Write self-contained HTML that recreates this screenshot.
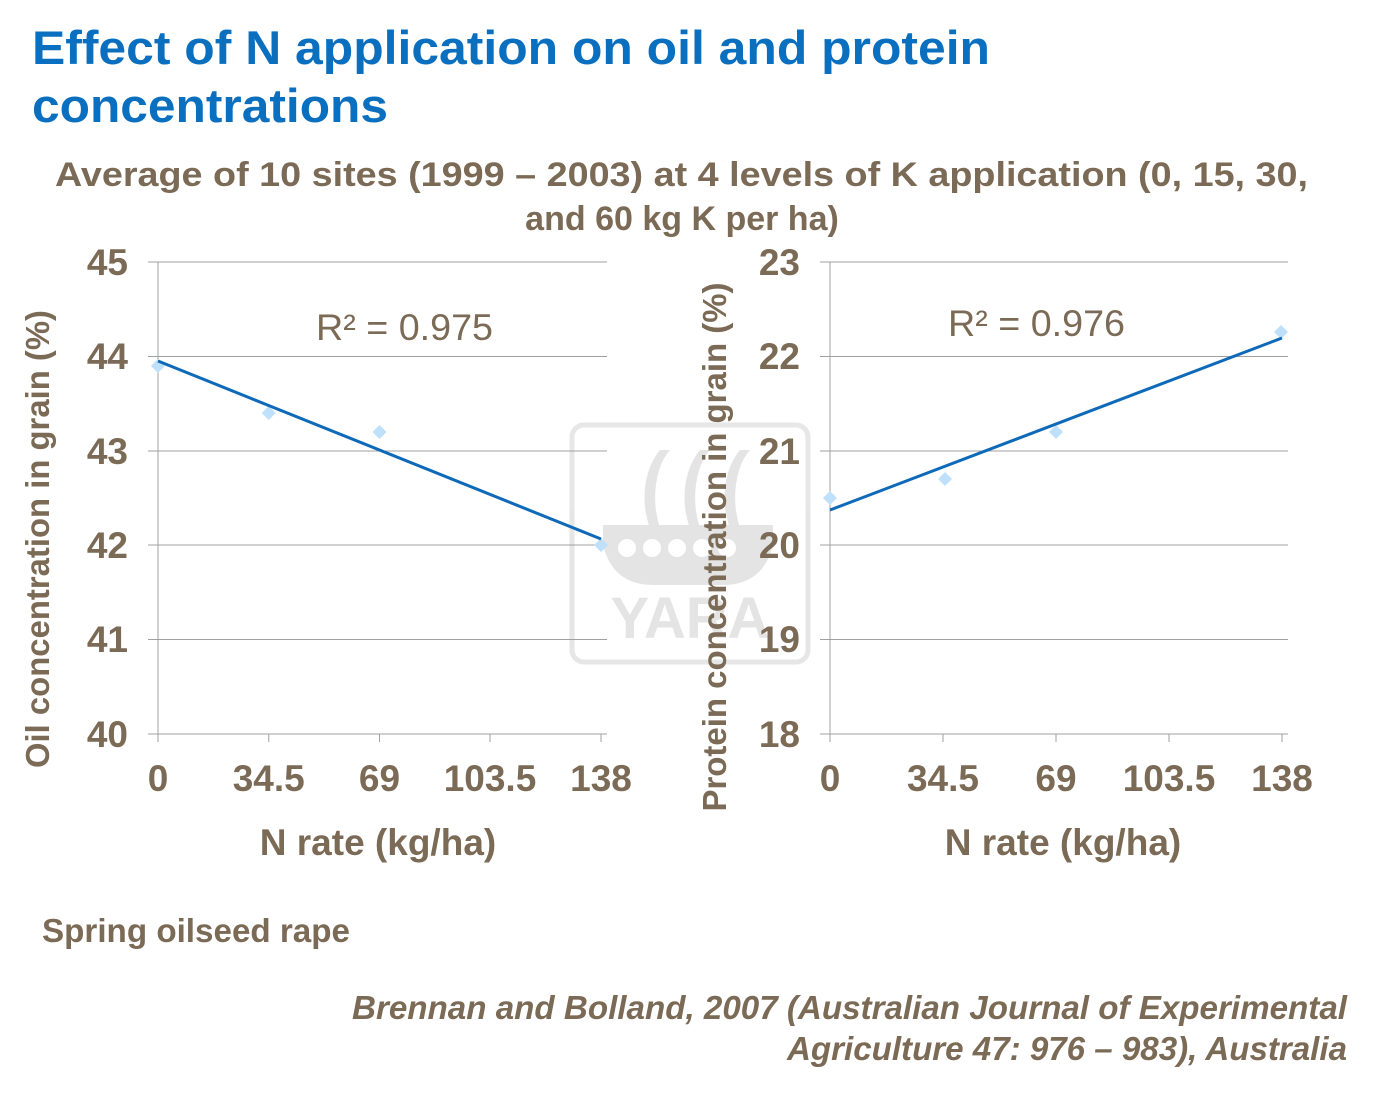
<!DOCTYPE html>
<html><head><style>
body{margin:0;width:1380px;height:1089px;background:#fff;overflow:hidden;font-family:"Liberation Sans",sans-serif}
</style></head><body>
<svg width="1380" height="1089" xmlns="http://www.w3.org/2000/svg" font-family="Liberation Sans, sans-serif">
<text x="32" y="64" font-size="47" font-weight="bold" fill="#0a6fbf" textLength="958" lengthAdjust="spacingAndGlyphs">Effect of N application on oil and protein</text>
<text x="32" y="122" font-size="47" font-weight="bold" fill="#0a6fbf" textLength="356" lengthAdjust="spacingAndGlyphs">concentrations</text>
<g fill="#7b6a55" font-weight="bold">
<text x="55" y="186" font-size="34" textLength="1253" lengthAdjust="spacingAndGlyphs">Average of  10 sites (1999 – 2003) at 4 levels of K application (0, 15, 30,</text>
<text x="682" y="230" font-size="34" text-anchor="middle">and 60 kg K per ha)</text>
</g>
<!-- watermark -->
<g opacity="0.9">
<rect x="572" y="425" width="236" height="237" rx="12" fill="none" stroke="#e4e4e4" stroke-width="5"/>
<g fill="#e2e2e2">
<path d="M660 450 a40 60 0 0 0 0 95 l10 0 a30 55 0 0 1 0 -95z"/>
<path d="M700 450 a40 60 0 0 0 0 95 l10 0 a30 55 0 0 1 0 -95z"/>
<path d="M740 450 a40 60 0 0 0 0 95 l10 0 a30 55 0 0 1 0 -95z"/>
<path d="M603 525 h170 v20 q-10 40 -50 40 h-70 q-40 0 -50 -40z"/>
<text x="690" y="638" font-size="58" font-weight="bold" text-anchor="middle">YARA</text>
</g>
<g fill="#fff"><circle cx="627" cy="548" r="9"/><circle cx="652" cy="548" r="9"/><circle cx="677" cy="548" r="9"/><circle cx="702" cy="548" r="9"/><circle cx="727" cy="548" r="9"/></g>
</g>
<!-- left chart -->
<g stroke="#a0a0a0" stroke-width="1">
<line x1="148" y1="262" x2="607" y2="262"/><line x1="148" y1="356.5" x2="607" y2="356.5"/><line x1="148" y1="451" x2="607" y2="451"/><line x1="148" y1="545" x2="607" y2="545"/><line x1="148" y1="639.5" x2="607" y2="639.5"/><line x1="148" y1="734" x2="607" y2="734"/>
<line x1="158" y1="262" x2="158" y2="742"/>
<line x1="268.75" y1="734" x2="268.75" y2="742"/><line x1="379.5" y1="734" x2="379.5" y2="742"/><line x1="490" y1="734" x2="490" y2="742"/><line x1="601" y1="734" x2="601" y2="742"/>
</g>
<g fill="#bfe0fa">
<path d="M158 359 l7 7 -7 7 -7 -7z"/><path d="M268.75 406 l7 7 -7 7 -7 -7z"/><path d="M379.5 425 l7 7 -7 7 -7 -7z"/><path d="M601 538 l7 7 -7 7 -7 -7z"/>
</g>
<line x1="158" y1="361" x2="601" y2="539" stroke="#0e6ab8" stroke-width="3"/>
<text x="316" y="340" font-size="37" fill="#7b6a55" textLength="177" lengthAdjust="spacingAndGlyphs">R² = 0.975</text>
<g fill="#7b6a55" font-weight="bold" font-size="37">
<g text-anchor="end"><text x="128" y="275">45</text><text x="128" y="369">44</text><text x="128" y="464">43</text><text x="128" y="558">42</text><text x="128" y="652">41</text><text x="128" y="747">40</text></g>
<g text-anchor="middle"><text x="158" y="791">0</text><text x="268.75" y="791">34.5</text><text x="379.5" y="791">69</text><text x="490" y="791">103.5</text><text x="601" y="791">138</text></g>
<text x="378" y="855" text-anchor="middle" font-size="37">N rate (kg/ha)</text>
<text transform="translate(49,539) rotate(-90)" text-anchor="middle" font-size="33" textLength="458" lengthAdjust="spacingAndGlyphs">Oil concentration in grain (%)</text>
</g>
<!-- right chart -->
<g stroke="#a0a0a0" stroke-width="1">
<line x1="820" y1="262" x2="1288" y2="262"/><line x1="820" y1="356.5" x2="1288" y2="356.5"/><line x1="820" y1="451" x2="1288" y2="451"/><line x1="820" y1="545" x2="1288" y2="545"/><line x1="820" y1="639.5" x2="1288" y2="639.5"/><line x1="820" y1="734" x2="1288" y2="734"/>
<line x1="830" y1="262" x2="830" y2="742"/>
<line x1="943" y1="734" x2="943" y2="742"/><line x1="1056" y1="734" x2="1056" y2="742"/><line x1="1169" y1="734" x2="1169" y2="742"/><line x1="1282" y1="734" x2="1282" y2="742"/>
</g>
<g fill="#bfe0fa">
<path d="M830 491 l7 7 -7 7 -7 -7z"/><path d="M945 472 l7 7 -7 7 -7 -7z"/><path d="M1056 425 l7 7 -7 7 -7 -7z"/><path d="M1281 325 l7 7 -7 7 -7 -7z"/>
</g>
<line x1="830" y1="510" x2="1282" y2="338" stroke="#0e6ab8" stroke-width="3"/>
<text x="948" y="336" font-size="37" fill="#7b6a55" textLength="177" lengthAdjust="spacingAndGlyphs">R² = 0.976</text>
<g fill="#7b6a55" font-weight="bold" font-size="37">
<g text-anchor="end"><text x="800" y="275">23</text><text x="800" y="369">22</text><text x="800" y="464">21</text><text x="800" y="558">20</text><text x="800" y="652">19</text><text x="800" y="747">18</text></g>
<g text-anchor="middle"><text x="830" y="791">0</text><text x="943" y="791">34.5</text><text x="1056" y="791">69</text><text x="1169" y="791">103.5</text><text x="1282" y="791">138</text></g>
<text x="1063" y="855" text-anchor="middle" font-size="37">N rate (kg/ha)</text>
<text transform="translate(726,547) rotate(-90)" text-anchor="middle" font-size="33" textLength="529" lengthAdjust="spacingAndGlyphs">Protein concentration in grain (%)</text>
</g>
<text x="42" y="942" font-size="33" font-weight="bold" fill="#7b6a55" textLength="308" lengthAdjust="spacingAndGlyphs">Spring oilseed rape</text>
<g fill="#7b6a55" font-weight="bold" font-style="italic" font-size="33">
<text x="352" y="1019" textLength="995" lengthAdjust="spacingAndGlyphs">Brennan and Bolland, 2007 (Australian Journal of Experimental</text>
<text x="787" y="1060" textLength="560" lengthAdjust="spacingAndGlyphs">Agriculture 47: 976 – 983), Australia</text>
</g>
</svg>
</body></html>
